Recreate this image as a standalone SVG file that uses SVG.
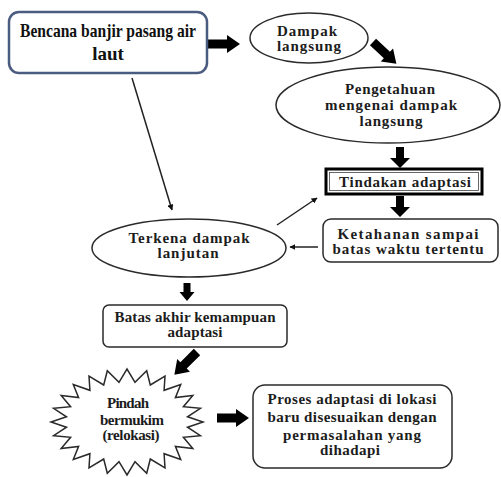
<svg xmlns="http://www.w3.org/2000/svg" width="501" height="477" viewBox="0 0 501 477">
<style>
.n{fill:#fff;stroke:#2a2a2a;stroke-width:1.5}
.t{font-family:"Liberation Serif","Times New Roman",serif;font-weight:bold;font-size:15px;fill:#1c1c1c;text-anchor:middle}
.big{font-size:19px;fill:#111}
.thin{stroke:#222;stroke-width:1.5;fill:none;marker-end:url(#ah)}
.blk{fill:#000}
</style>
<defs>
<marker id="ah" viewBox="0 0 10 10" refX="9" refY="5" markerWidth="6" markerHeight="6" markerUnits="userSpaceOnUse" orient="auto"><path d="M0,0 L10,5 L0,10 Z" fill="#111"/></marker>
<path id="bigR" d="M0,-4.5 H19 V-9 L32,0 L19,9 V4.5 H0 Z"/>
<path id="dn" d="M-4,0 V11 H-10 L0,21 L10,11 H4 V0 Z"/>
<path id="dnS" d="M-3.5,0 V9 H-7.5 L0,18 L7.5,9 H3.5 V0 Z"/>
</defs>
<rect width="501" height="477" fill="#fff"/>
<g id="connectors">
<use href="#bigR" class="blk" transform="translate(208,44)"/>
<use href="#bigR" class="blk" transform="translate(373,42) rotate(43)"/>
<use href="#dn" class="blk" transform="translate(400,147)"/>
<use href="#dn" class="blk" transform="translate(400,196)"/>
<use href="#dnS" class="blk" transform="translate(187,283)"/>
<use href="#bigR" class="blk" transform="translate(197,352) rotate(135)"/>
<use href="#bigR" class="blk" transform="translate(217,418)"/>
<line class="thin" x1="132" y1="78" x2="172" y2="210"/>
<line class="thin" x1="277" y1="225" x2="317" y2="198"/>
<line class="thin" x1="318" y1="247" x2="290" y2="247"/>
</g>
<g id="n1">
<rect x="9" y="12" width="198" height="61" rx="10" fill="#fff" stroke="#4a5c80" stroke-width="2.5"/>
<text class="t big" x="108" y="37" textLength="176" lengthAdjust="spacingAndGlyphs">Bencana banjir pasang air</text>
<text class="t big" x="108" y="60">laut</text>
</g>
<g id="n2">
<ellipse class="n" cx="309" cy="38" rx="59" ry="25"/>
<text class="t" x="307" y="36" textLength="60" lengthAdjust="spacing">Dampak</text>
<text class="t" x="309" y="51" textLength="64" lengthAdjust="spacing">langsung</text>
</g>
<g id="n3">
<ellipse class="n" cx="388" cy="105" rx="112" ry="38"/>
<text class="t" x="390" y="94" textLength="90" lengthAdjust="spacing">Pengetahuan</text>
<text class="t" x="391" y="110" textLength="132" lengthAdjust="spacing">mengenai dampak</text>
<text class="t" x="391" y="126" textLength="63" lengthAdjust="spacing">langsung</text>
</g>
<g id="n4">
<rect x="326" y="169" width="156" height="25" fill="#fff" stroke="#000" stroke-width="3"/>
<rect x="329.5" y="172.5" width="149" height="18" fill="none" stroke="#444" stroke-width="0.8"/>
<text class="t" x="405" y="187" textLength="132" lengthAdjust="spacing">Tindakan adaptasi</text>
</g>
<g id="n5">
<rect class="n" x="323" y="219" width="175" height="43" rx="8"/>
<text class="t" x="408" y="239" textLength="141" lengthAdjust="spacing">Ketahanan sampai</text>
<text class="t" x="408" y="254" textLength="151" lengthAdjust="spacing">batas waktu tertentu</text>
</g>
<g id="n6">
<ellipse class="n" cx="189" cy="248" rx="97" ry="29"/>
<text class="t" x="189" y="243" textLength="121" lengthAdjust="spacing">Terkena dampak</text>
<text class="t" x="188" y="258" textLength="61" lengthAdjust="spacing">lanjutan</text>
</g>
<g id="n7">
<rect class="n" x="103" y="305" width="184" height="42" rx="6"/>
<text class="t" x="195" y="322" textLength="161" lengthAdjust="spacing">Batas akhir kemampuan</text>
<text class="t" x="195" y="337" textLength="55" lengthAdjust="spacing">adaptasi</text>
</g>
<g id="n8">
<polygon class="n" points="203,422 187.5,427.2 200.4,435.7 183.4,437.3 192.8,448.5 175.4,446.4 180.7,459.5 164.1,453.7 165,467.9 150.3,459 146.7,473.2 135,461.7 127,475 119,461.7 107.3,473.2 103.7,459 89,467.9 89.9,453.7 73.3,459.5 78.6,446.4 61.2,448.5 70.6,437.3 53.6,435.7 66.5,427.2 51,422 66.5,416.8 53.6,408.3 70.6,406.7 61.2,395.5 78.6,397.6 73.3,384.5 89.9,390.3 89,376.1 103.7,385 107.3,370.8 119,382.3 127,369 135,382.3 146.7,370.8 150.3,385 165,376.1 164.1,390.3 180.7,384.5 175.4,397.6 192.8,395.5 183.4,406.7 200.4,408.3 187.5,416.8"/>
<text class="t" x="128" y="408" textLength="42" lengthAdjust="spacing">Pindah</text>
<text class="t" x="132" y="425" textLength="64" lengthAdjust="spacing">bermukim</text>
<text class="t" x="131" y="440" textLength="57" lengthAdjust="spacing">(relokasi)</text>
</g>
<g id="n9">
<rect class="n" x="253" y="385" width="199" height="83" rx="12"/>
<text class="t" x="352" y="404" textLength="169" lengthAdjust="spacing">Proses adaptasi di lokasi</text>
<text class="t" x="352" y="422" textLength="169" lengthAdjust="spacing">baru disesuaikan dengan</text>
<text class="t" x="352" y="440" textLength="138" lengthAdjust="spacing">permasalahan yang</text>
<text class="t" x="350" y="455" textLength="60" lengthAdjust="spacing">dihadapi</text>
</g>
</svg>
